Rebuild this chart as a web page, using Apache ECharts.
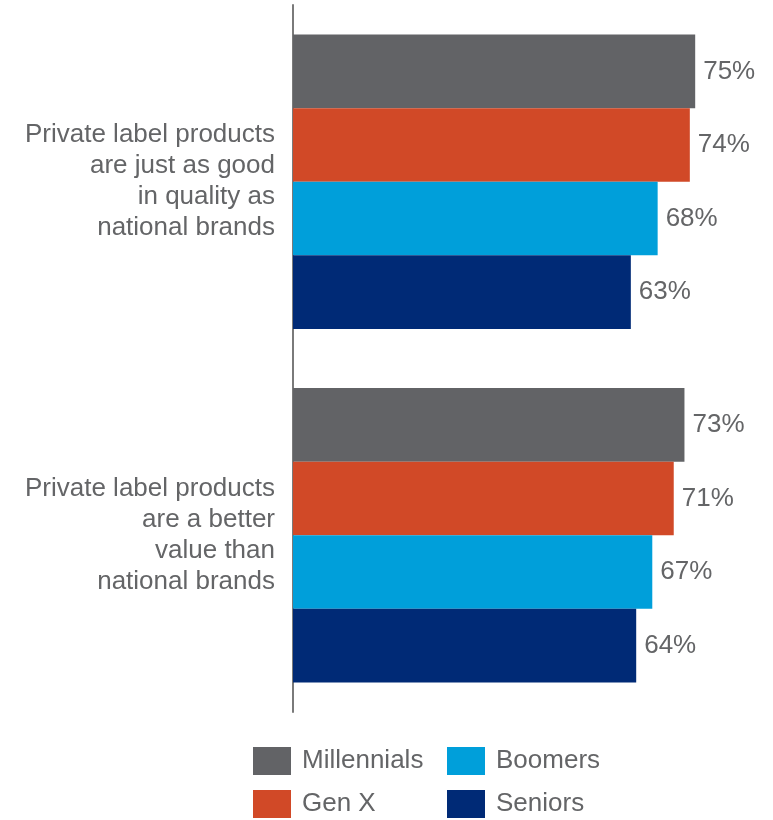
<!DOCTYPE html>
<html>
<head>
<meta charset="utf-8">
<script src="https://cdn.jsdelivr.net/npm/echarts@6/dist/echarts.min.js"></script>
<style>
  html, body { margin: 0; padding: 0; background: #ffffff; }
  #chart { width: 773px; height: 820px; }
</style>
</head>
<body>
<div id="chart"></div>
<script>
// Statements shown on the category axis
const statements = [
  'Private label products\nare just as good\nin quality as\nnational brands',
  'Private label products\nare a better\nvalue than\nnational brands'
];

// Share agreeing with each statement, by generation (%)
const millennials = [75, 73];
const genX = [74, 71];
const boomers = [68, 67];
const seniors = [63, 64];

const generations = ['Millennials', 'Gen X', 'Boomers', 'Seniors'];
const colors = ['#626366', '#D14927', '#009FDA', '#002A76'];
const textColor = '#646567';
const fontFamily = 'Liberation Sans, Arial, sans-serif';

const chart = echarts.init(document.getElementById('chart'));

function barSeries(name, values, color) {
  return {
    name: name,
    type: 'bar',
    data: values,
    barWidth: 73.6,
    barGap: '0%',
    itemStyle: { color: color },
    label: {
      show: true,
      position: 'right',
      distance: 8,
      formatter: '{c}%',
      color: textColor,
      fontSize: 26,
      fontFamily: fontFamily,
      padding: [3, 0, 0, 0]
    }
  };
}

const legendBase = {
  orient: 'vertical',
  icon: 'rect',
  itemWidth: 38,
  itemHeight: 28,
  itemGap: 15,
  padding: 0,
  selectedMode: false,
  textStyle: {
    color: textColor,
    fontSize: 26,
    fontFamily: fontFamily,
    padding: [5, 0, 0, 6]
  }
};

chart.setOption({
  animation: false,
  backgroundColor: '#ffffff',
  grid: { left: 293, right: 51, top: 5, bottom: 108, containLabel: false },
  legend: [
    Object.assign({}, legendBase, { left: 253, top: 747, data: ['Millennials', 'Gen X'] }),
    Object.assign({}, legendBase, { left: 447, top: 747, data: ['Boomers', 'Seniors'] })
  ],
  xAxis: {
    type: 'value',
    min: 0,
    max: 80,
    show: false
  },
  yAxis: {
    type: 'category',
    inverse: true,
    data: statements,
    axisLine: { show: true, lineStyle: { color: '#7a7a7a', width: 2 } },
    axisTick: { show: false },
    splitLine: { show: false },
    axisLabel: {
      color: textColor,
      fontSize: 26,
      lineHeight: 31,
      align: 'right',
      margin: 18,
      fontFamily: fontFamily,
      padding: [4, 0, 0, 0]
    }
  },
  series: [
    barSeries(generations[0], millennials, colors[0]),
    barSeries(generations[1], genX, colors[1]),
    barSeries(generations[2], boomers, colors[2]),
    barSeries(generations[3], seniors, colors[3])
  ]
});
</script>
</body>
</html>
